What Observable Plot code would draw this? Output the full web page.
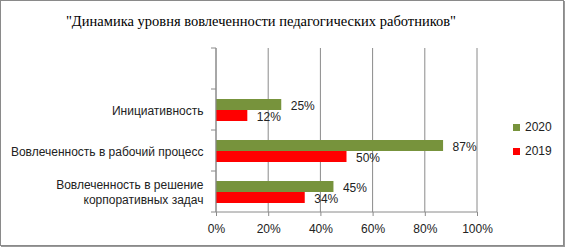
<!DOCTYPE html>
<html><head><meta charset="utf-8">
<script src="https://cdn.jsdelivr.net/npm/d3@7"></script>
<script src="https://cdn.jsdelivr.net/npm/@observablehq/plot@0.6"></script>
<style>
html,body{margin:0;padding:0;background:#fff;}
#box{position:relative;width:566px;height:248px;overflow:hidden;}
#frame{position:absolute;left:0;top:0;width:562px;height:244px;border:1px solid #8a8a8a;box-shadow:1px 1px 0 #9a9a9a;}
#title{position:absolute;left:0;top:13px;width:522px;text-align:center;font-family:"Liberation Serif","Liberation Sans",serif;font-size:14.5px;line-height:17px;color:#000;}
#chart{position:absolute;left:0;top:0;}
#legend{position:absolute;left:513px;top:120px;font-family:"Liberation Sans",Arial,sans-serif;font-size:12px;color:#222;}
#legend .it{display:flex;align-items:center;height:14px;margin-bottom:10px;}
#legend .sw{width:7px;height:7px;margin-right:5px;}
</style></head>
<body>
<div id="box"><div id="frame"></div><div id="chart"></div><div id="title"></div><div id="legend"></div></div>
<script>
const titleText = "\"Динамика уровня вовлеченности педагогических работников\"";
const categories = ["", "Инициативность", "Вовлеченность в рабочий процесс", "Вовлеченность в решение\nкорпоративных задач"];
const years = ["2020", "2019"];
const values2020 = [25, 87, 45];
const values2019 = [12, 50, 34];
const xTicks = [0, 20, 40, 60, 80, 100];
const colors = {"2020": "#77933C", "2019": "#FF0000"};

const data = [];
categories.slice(1).forEach((c, i) => {
  data.push({category: c, year: "2020", value: values2020[i]});
  data.push({category: c, year: "2019", value: values2019[i]});
});

document.getElementById("title").textContent = titleText;
const lg = document.getElementById("legend");
years.forEach(y => {
  const it = document.createElement("div"); it.className = "it";
  const sw = document.createElement("div"); sw.className = "sw"; sw.style.background = colors[y];
  const t = document.createElement("span"); t.textContent = y;
  it.appendChild(sw); it.appendChild(t); lg.appendChild(it);
});

const W = 566, H = 248;
const plot = Plot.plot({
  width: W, height: H,
  marginLeft: 216, marginRight: 89, marginTop: 46, marginBottom: 35,
  style: {fontFamily: "'Liberation Sans', Arial, sans-serif", fontSize: "12px", color: "#222", background: "transparent", overflow: "visible"},
  x: {domain: [0, 100], ticks: xTicks, tickFormat: d => d + "%"},
  fy: {domain: categories, paddingInner: 0, paddingOuter: 0, label: null},
  y: {domain: years, paddingInner: 0, paddingOuter: 0.785, axis: null, label: null},
  color: {domain: years, range: years.map(y => colors[y])},
  marks: [
    Plot.barX(data, {fy: "category", y: "year", x: "value", fill: "year"}),
    Plot.text(data, {fy: "category", y: "year", x: "value", text: d => d.value + "%", dx: 9, dy: 1, textAnchor: "start", fill: "#222", fontSize: 12}),
    Plot.axisX({ticks: xTicks, tickFormat: d => d + "%", tickSize: 4, tickPadding: 8, stroke: "#8a8a8a", label: null, fill: "#222"}),
    Plot.axisFy({anchor: "left", tickSize: 0, tickPadding: 13, label: null, lineHeight: 1.2, fill: "#222"})
  ]
});
document.getElementById("chart").appendChild(plot);

// grid, axis lines and category boundary ticks, positioned from the library's scales
const fy = plot.scale("fy"), xs = plot.scale("x");
const svg = d3.select(plot);
const x0 = xs.apply(0), x1 = xs.apply(100);
const yTop = fy.apply(categories[0]);
const yBot = fy.apply(categories[categories.length - 1]) + fy.bandwidth;
const bounds = categories.map(c => fy.apply(c)).concat([yBot]);
const grid = svg.insert("g", ":first-child").attr("stroke", "#8a8a8a");
xTicks.forEach(t => grid.append("line").attr("x1", xs.apply(t)).attr("x2", xs.apply(t)).attr("y1", yTop).attr("y2", yBot));
const g = svg.append("g").attr("stroke", "#8a8a8a");
g.append("line").attr("x1", x0).attr("x2", x0).attr("y1", yTop).attr("y2", yBot);
g.append("line").attr("x1", x0).attr("x2", x1).attr("y1", yBot).attr("y2", yBot);
bounds.forEach(b => g.append("line").attr("x1", x0 - 5).attr("x2", x0).attr("y1", b).attr("y2", b));
</script>
</body></html>
